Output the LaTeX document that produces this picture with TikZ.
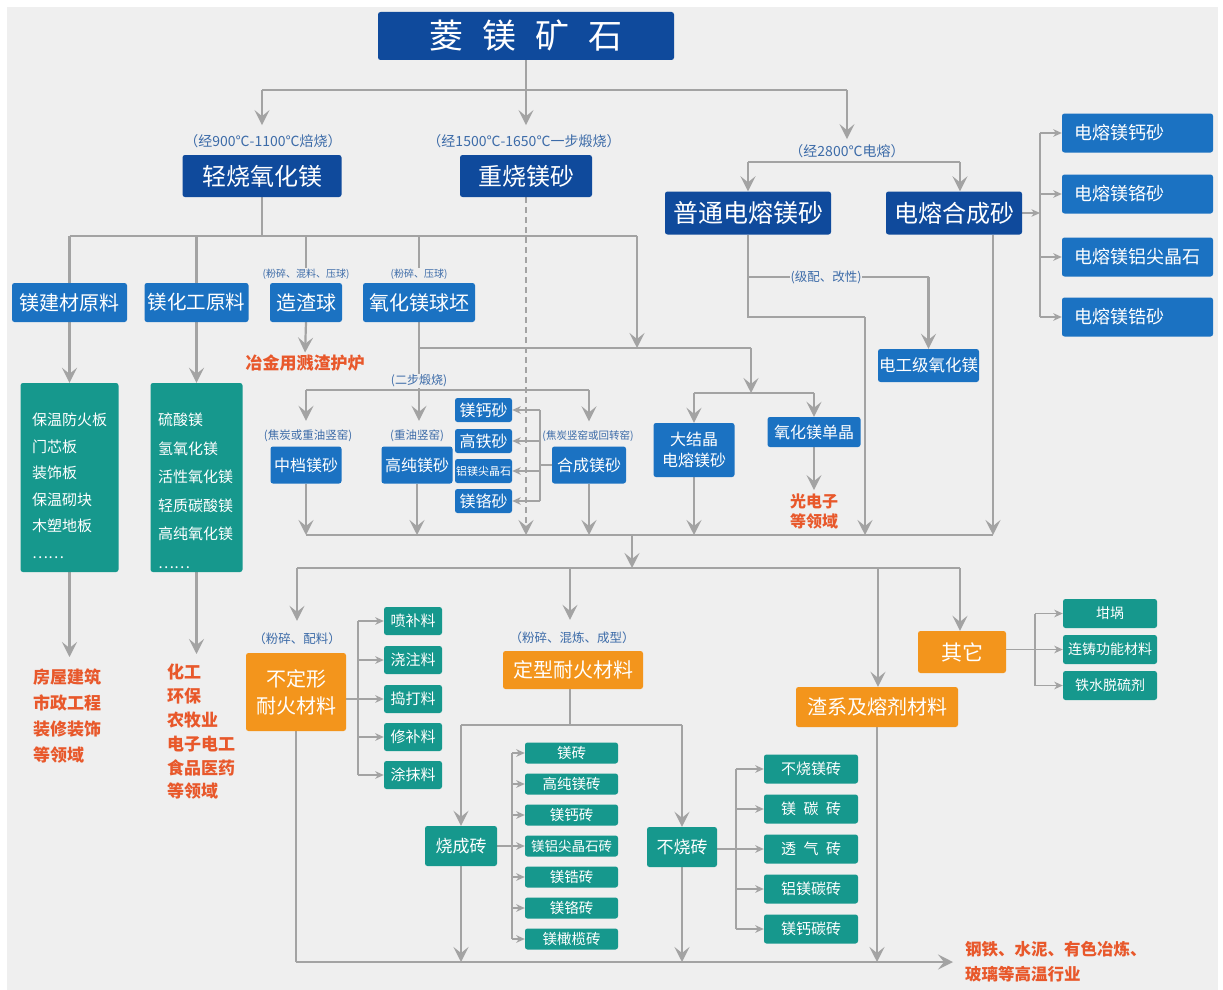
\documentclass[tikz,border=0pt]{standalone}
\usepackage{fontspec}
\setmainfont{Noto Sans CJK SC}
\usetikzlibrary{arrows.meta,backgrounds}
\definecolor{cbg}{HTML}{EFEFEF}
\definecolor{cnavy}{HTML}{0F4A9C}
\definecolor{cmblue}{HTML}{1B72C2}
\definecolor{cteal}{HTML}{16988D}
\definecolor{corange}{HTML}{F3951C}
\definecolor{cotxt}{HTML}{E8582B}
\definecolor{cline}{HTML}{A3A3A3}
\definecolor{clab}{HTML}{3C6BA8}
\newcommand{\fsz}[2]{\fontsize{#1pt}{#2pt}\selectfont}
\tikzset{
  bx/.style={rounded corners=2.5pt, inner sep=0pt, text=white, align=center},
  nv/.style={bx, fill=cnavy},
  mb/.style={bx, fill=cmblue},
  tl/.style={bx, fill=cteal},
  og/.style={bx, fill=corange},
  lab/.style={text=clab, inner sep=1pt},
  otx/.style={text=cotxt, inner sep=0pt},
  ln/.style={draw=cline, line width=2.2pt},
  ar/.style={ln, -{Stealth[length=15pt,width=15pt,inset=6pt]}},
  sln/.style={draw=cline, line width=1.6pt},
  sar/.style={sln, -{Stealth[length=8.5pt,width=7.5pt,inset=2.5pt]}},
  rt/.style={mb, minimum width=151, minimum height=39, text width=127pt, inner xsep=12pt, align=left, font=\fsz{18}{18}},
  sbx/.style={mb, minimum height=37, font=\fsz{16}{16}},
  smb/.style={mb, minimum width=57, minimum height=24, font=\fsz{16}{16}},
  tb/.style={tl, minimum width=58, minimum height=28, font=\fsz{15}{15}},
  brk/.style={tl, minimum width=93, minimum height=21, font=\fsz{14.5}{14.5}},
  ub/.style={tl, minimum width=94, minimum height=29, font=\fsz{15}{15}},
  ot/.style={tl, minimum width=94, minimum height=29, font=\fsz{14}{14}},
}
\begin{document}
\begin{tikzpicture}[x=1pt,y=-1pt]
\useasboundingbox (0,0) rectangle (1223,990);
% ---------- top ----------
\node[nv, minimum width=296, minimum height=48, font=\fsz{34}{34}] (ore) at (526,36) {菱\hspace{19pt}镁\hspace{19pt}矿\hspace{19pt}石};
\node[lab, font=\fsz{14}{14}] (l1) at (263,141) {（经900℃-1100℃焙烧）};
\node[lab, font=\fsz{14}{14}] (l2) at (524,141) {（经1500℃-1650℃一步煅烧）};
\node[lab, font=\fsz{14}{14}] (l3) at (847,151) {（经2800℃电熔）};
\node[nv, minimum width=159, minimum height=42, font=\fsz{24}{24}] (qs) at (262,176) {轻烧氧化镁};
\node[nv, minimum width=132, minimum height=42, font=\fsz{24}{24}] (zs) at (526,176) {重烧镁砂};
\node[nv, minimum width=166, minimum height=43, font=\fsz{25}{25}] (pt) at (748,213) {普通电熔镁砂};
\node[nv, minimum width=136, minimum height=43, font=\fsz{24}{24}] (dh) at (954,213) {电熔合成砂};
\node[rt] (r1) at (1137.5,133) {电熔镁钙砂};
\node[rt] (r2) at (1137.5,194) {电熔镁铬砂};
\node[rt] (r3) at (1137.5,257) {电熔镁铝尖晶石};
\node[rt] (r4) at (1137.5,317) {电熔镁锆砂};
% ---------- second row ----------
\node[mb, minimum width=115, minimum height=39, font=\fsz{20}{20}] (b1) at (69.5,302.5) {镁建材原料};
\node[mb, minimum width=104, minimum height=39, font=\fsz{19.5}{20}] (b2) at (196.5,302.5) {镁化工原料};
\node[mb, minimum width=72, minimum height=39, font=\fsz{20}{20}] (b3) at (306,302.5) {造渣球};
\node[mb, minimum width=112, minimum height=39, font=\fsz{20}{20}] (b4) at (419,302.5) {氧化镁球坯};
\node[lab, font=\fsz{10}{10}] (l4) at (306,274) {(粉碎、混料、压球)};
\node[lab, font=\fsz{10}{10}] (l5) at (419,274) {(粉碎、压球)};
\node[otx, font=\bfseries\fsz{17}{17}] (o3) at (305,363) {冶金用溅渣护炉};
% ---------- left columns ----------
\node[tl, minimum width=98, minimum height=189] (t1) at (69.5,477.5) {};
\node[anchor=north west, inner sep=0pt, text=white, align=left, font=\fsz{15}{26.5}] (t1t) at (32,413) {保温防火板\\门芯板\\装饰板\\保温砌块\\木塑地板\\……};
\node[tl, minimum width=92, minimum height=189] (t2) at (196.5,477.5) {};
\node[anchor=north west, inner sep=0pt, text=white, align=left, font=\fsz{15}{28.5}] (t2t) at (158,413) {硫酸镁\\氢氧化镁\\活性氧化镁\\轻质碳酸镁\\高纯氧化镁\\……};
\node[otx, anchor=north west, align=left, font=\bfseries\fsz{17}{25.7}] (o1) at (33,669) {房屋建筑\\市政工程\\装修装饰\\等领域};
\node[otx, anchor=north west, align=left, font=\bfseries\fsz{17}{23.8}] (o2) at (167,664) {化工\\环保\\农牧业\\电子电工\\食品医药\\等领域};
% ---------- middle ----------
\node[lab, font=\fsz{12}{12}, fill=cbg] (l6) at (419,381) {(二步煅烧)};
\node[lab, font=\fsz{11.5}{11.5}] (l7) at (308,436) {(焦炭或重油竖窑)};
\node[lab, font=\fsz{11.5}{11.5}] (l8) at (417,436) {(重油竖窑)};
\node[lab, font=\fsz{10.5}{10.5}] (l9) at (588,436) {(焦炭竖窑或回转窑)};
\node[sbx, minimum width=71] (zd) at (306,465) {中档镁砂};
\node[sbx, minimum width=71] (gc) at (417,465) {高纯镁砂};
\node[sbx, minimum width=74] (hc) at (589,465) {合成镁砂};
\node[smb] (s1) at (483.5,410) {镁钙砂};
\node[smb] (s2) at (483.5,441) {高铁砂};
\node[smb, font=\fsz{11}{11}] (s3) at (483.5,471) {铝镁尖晶石};
\node[smb] (s4) at (483.5,501) {镁铬砂};
\node[mb, minimum width=81, minimum height=54, font=\fsz{16}{21}] (dj) at (694,450) {大结晶\\电熔镁砂};
\node[mb, minimum width=93, minimum height=30, font=\fsz{16}{16}] (dd) at (814,432) {氧化镁单晶};
\node[otx, align=center, font=\bfseries\fsz{16}{20}] (o4) at (814,511) {光电子\\等领域};
\node[lab, font=\fsz{12.5}{12.5}, fill=cbg] (l10) at (826,277) {(级配、改性)};
\node[mb, minimum width=101, minimum height=33, font=\fsz{16.5}{16.5}] (dg) at (928.5,365.5) {电工级氧化镁};
% ---------- lower ----------
\node[lab, font=\fsz{12.5}{12.5}] (l11) at (297,639) {（粉碎、配料）};
\node[og, minimum width=100, minimum height=78, font=\fsz{20}{27}] (bd) at (296,692) {不定形\\耐火材料};
\node[lab, font=\fsz{12.5}{12.5}] (l12) at (572,638) {（粉碎、混炼、成型）};
\node[og, minimum width=140, minimum height=38, font=\fsz{20}{20}] (dx) at (573,670) {定型耐火材料};
\node[og, minimum width=162, minimum height=40, font=\fsz{20}{20}] (zx) at (877,707) {渣系及熔剂材料};
\node[og, minimum width=88, minimum height=42, font=\fsz{21}{21}] (qt) at (962,652) {其它};
\node[tb] (p1) at (413,621) {喷补料};
\node[tb] (p2) at (413,660) {浇注料};
\node[tb] (p3) at (413,699) {捣打料};
\node[tb] (p4) at (413,737) {修补料};
\node[tb] (p5) at (413,775) {涂抹料};
\node[tl, minimum width=72, minimum height=40, font=\fsz{17}{17}] (sc) at (461,846) {烧成砖};
\node[tl, minimum width=70, minimum height=40, font=\fsz{17}{17}] (bs) at (682,847) {不烧砖};
\node[brk] (k1) at (571.5,753) {镁砖};
\node[brk] (k2) at (571.5,784) {高纯镁砖};
\node[brk] (k3) at (571.5,815) {镁钙砖};
\node[brk, font=\fsz{13.5}{13.5}] (k4) at (571.5,846) {镁铝尖晶石砖};
\node[brk] (k5) at (571.5,877) {镁锆砖};
\node[brk] (k6) at (571.5,908) {镁铬砖};
\node[brk] (k7) at (571.5,939) {镁橄榄砖};
\node[ub] (u1) at (811,769) {不烧镁砖};
\node[ub] (u2) at (811,809) {镁\hspace{0.5em}碳\hspace{0.5em}砖};
\node[ub] (u3) at (811,849) {透\hspace{0.5em}气\hspace{0.5em}砖};
\node[ub] (u4) at (811,889) {铝镁碳砖};
\node[ub] (u5) at (811,929) {镁钙碳砖};
\node[ot] (q1) at (1110,613.5) {坩埚};
\node[ot] (q2) at (1110,649.5) {连铸功能材料};
\node[ot] (q3) at (1110,685.5) {铁水脱硫剂};
\node[otx, anchor=west, align=left, font=\bfseries\fsz{16.5}{25}] (o5) at (965,962) {钢铁、水泥、有色冶炼、\\玻璃等高温行业};
% ---------- junction coordinates ----------
\coordinate (j0) at (526,90);
\coordinate (j0L) at (262,90);
\coordinate (j0R) at (847,90);
\coordinate (j1L) at (748,162);
\coordinate (j1R) at (960,162);
\coordinate (vr) at (1040,213);
\coordinate (j2) at (262,236);
\coordinate (j2L) at (69.5,236);
\coordinate (j2R) at (637,236);
\coordinate (j3) at (419,348);
\coordinate (j3E) at (751,348);
\coordinate (j4) at (751,393);
\coordinate (j4L) at (694,393);
\coordinate (j4R) at (814,393);
\coordinate (j5) at (419,390);
\coordinate (j5L) at (306,390);
\coordinate (j5R) at (589,390);
\coordinate (vs) at (540,467);
\coordinate (m1L) at (306,535);
\coordinate (m1R) at (993,535);
\coordinate (m2) at (632,535);
\coordinate (n0) at (632,568);
\coordinate (nL) at (297,568);
\coordinate (n2) at (570,568);
\coordinate (n3) at (878,568);
\coordinate (nR) at (960,568);
\coordinate (g1) at (748,277);
\coordinate (g2) at (928.5,277);
\coordinate (pp1) at (748,317);
\coordinate (pp2) at (865,317);
\coordinate (vb) at (358,699);
\coordinate (x1) at (570,725);
\coordinate (x1L) at (461,725);
\coordinate (x1R) at (682,725);
\coordinate (vk) at (512,846);
\coordinate (vu) at (736,849);
\coordinate (vq) at (1035,649.5);
\coordinate (e0) at (296,962);
\begin{scope}[on background layer]
\fill[white] (0,0) rectangle (1223,990);
\fill[cbg] (7,7) rectangle (1218,990);
% top
\draw[ln] (ore.south) -- (j0);
\draw[ln] (j0L) -- (j0R);
\draw[ar, shorten >=8pt] (j0L) -- (j0L |- l1.north);
\draw[ar, shorten >=8pt] (j0) -- (j0 |- l2.north);
\draw[ar, shorten >=4pt] (j0R) -- (l3.north);
\draw[ln] (j1L) -- (j1R);
\draw[ar] (j1L) -- (pt.north);
\draw[ar] (j1R) -- (j1R |- dh.north);
% right column
\draw[sar] (dh.east) -- (vr);
\draw[sln] (vr |- r1.west) -- (vr |- r4.west);
\foreach \r in {r1,r2,r3,r4} \draw[sar] (vr |- \r.west) -- (\r.west);
% light-burned branch
\draw[ln] (qs.south) -- (j2);
\draw[ln] (j2L) -- (j2R);
\draw[ln] (j2L) -- (b1.north);
\draw[ln] (b2.north |- j2) -- (b2.north);
\draw[ln] (b3.north |- j2) -- (l4.north);
\draw[ln] (b4.north |- j2) -- (l5.north);
\draw[ar] (j2R) -- (j2R |- j3);
\draw[ar, shorten >=2pt] (b3.south) -- (o3.north);
\draw[ar] (b1.south) -- (t1.north);
\draw[ar] (b2.south) -- (t2.north);
\draw[ar, shorten >=12pt] (t1.south) -- (t1.south |- o1.north);
\draw[ar, shorten >=10pt] (t2.south) -- (t2.south |- o2.north);
% pellets
\draw[ln] (b4.south) -- (j3) -- (j3E);
\draw[ar] (j3E) -- (j4);
\draw[ln] (j4L) -- (j4R);
\draw[ar] (j4L) -- (dj.north);
\draw[ar] (j4R) -- (dd.north);
\draw[ar, shorten >=3pt] (dd.south) -- (o4.north);
\draw[ln] (j3) -- (j5);
\draw[ln] (j5L) -- (j5R);
\draw[ar, shorten >=8pt] (j5L) -- (j5L |- l7.north);
\draw[ar, shorten >=8pt] (j5) -- (j5 |- l8.north);
\draw[ar, shorten >=8pt] (j5R) -- (j5R |- l9.north);
% synthetic sand branches
\draw[sln] (hc.west) -- (hc.west -| vs);
\draw[sln] (vs |- s1.east) -- (vs |- s4.east);
\foreach \s in {s1,s2,s3,s4} \draw[sar] (vs |- \s.east) -- (\s.east);
% dead-burned dashed
\draw[ln, line width=1.6pt, dash pattern=on 6pt off 4pt, -{Stealth[length=15pt,width=15pt,inset=6pt]}] (zs.south) -- (zs.south |- m1L);
% fused
\draw[ln] (pt.south) -- (pp1) -- (pp2);
\draw[ln] (g1) -- (g2);
\draw[ar] (g2) -- (dg.north);
% merge line
\draw[ln] (m1L) -- (m1R);
\draw[ar] (zd.south) -- (zd.south |- m1L);
\draw[ar] (gc.south) -- (gc.south |- m1L);
\draw[ar] (hc.south) -- (hc.south |- m1L);
\draw[ar] (dj.south) -- (dj.south |- m1L);
\draw[ar] (pp2) -- (pp2 |- m1L);
\draw[ar] (m1R |- dh.south) -- (m1R);
\draw[ar] (m2) -- (n0);
\draw[ln] (nL) -- (nR);
\draw[ar, shorten >=11pt] (nL) -- (nL |- l11.north);
\draw[ar, shorten >=11pt] (n2) -- (n2 |- l12.north);
\draw[ar] (n3) -- (n3 |- zx.north);
\draw[ar] (nR) -- (nR |- qt.north);
% unshaped
\draw[sar] (bd.east |- p3) -- (p3.west);
\draw[sln] (vb |- p1) -- (vb |- p5);
\foreach \p in {p1,p2,p4,p5} \draw[sar] (vb |- \p) -- (\p.west);
% shaped
\draw[ln] (x1 |- dx.south) -- (x1);
\draw[ln] (x1L) -- (x1R);
\draw[ar] (x1L) -- (sc.north);
\draw[ar] (x1R) -- (bs.north);
\draw[sar] (sc.east |- k4) -- (k4.west);
\draw[sln] (vk |- k1) -- (vk |- k7);
\foreach \k in {k1,k2,k3,k5,k6,k7} \draw[sar] (vk |- \k) -- (\k.west);
\draw[sar] (bs.east |- u3) -- (u3.west);
\draw[sln] (vu |- u1) -- (vu |- u5);
\foreach \u in {u1,u2,u4,u5} \draw[sar] (vu |- \u) -- (\u.west);
% others
\draw[sar] (qt.east |- q2) -- (q2.west);
\draw[sln] (vq |- q1) -- (vq |- q3);
\draw[sar] (vq |- q1) -- (q1.west);
\draw[sar] (vq |- q3) -- (q3.west);
% bottom
\draw[ln] (bd.south) -- (e0);
\draw[ar, shorten >=12pt] (e0) -- (o5.west);
\draw[ar] (sc.south) -- (sc.south |- e0);
\draw[ar] (bs.south) -- (bs.south |- e0);
\draw[ar] (zx.south) -- (zx.south |- e0);
\end{scope}
\end{tikzpicture}
\end{document}
